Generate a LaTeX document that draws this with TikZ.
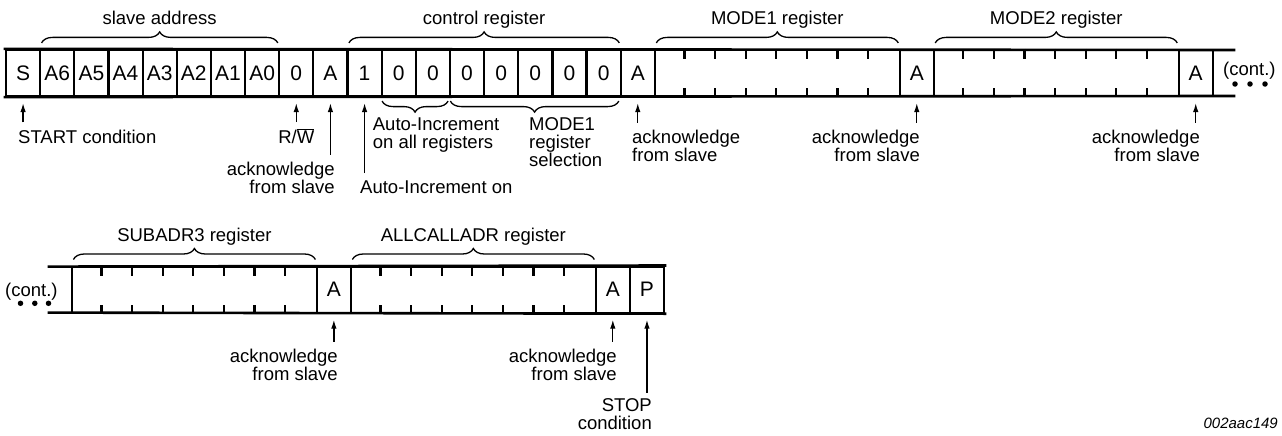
\documentclass[tikz,border=0pt]{standalone}
\usepackage{fontspec}
\setmainfont{Liberation Sans}
\usetikzlibrary{arrows.meta,decorations.pathreplacing,calc}
\begin{document}
\begin{tikzpicture}[x=1pt,y=-1pt,
  bitcell/.style={draw,line width=2.2pt,minimum width=34.15pt,minimum height=46pt,inner sep=0pt,font=\fontsize{21}{21}\selectfont},
  regbox/.style={draw,line width=2.2pt,minimum width=244.8pt,minimum height=46pt,inner sep=0pt},
  railline/.style={line width=2.6pt,line cap=rect},
  tickline/.style={line width=2.2pt},
  lbl/.style={font=\fontsize{18.5}{18}\selectfont,inner sep=0pt},
  codelbl/.style={font=\fontsize{15}{15}\selectfont\itshape,inner sep=0pt},
  arr/.style={line width=1.3pt,-{Latex[length=9pt,width=5.5pt]}},
  brc/.style={decorate,decoration={brace,amplitude=11pt},line width=1.3pt},
  mbrc/.style={decorate,decoration={brace,mirror,amplitude=11pt},line width=1.3pt},
  dot/.style={circle,fill,inner sep=0pt,minimum size=5.5pt}
]
\useasboundingbox (0,0) rectangle (1282,436);

% ---------- top row ----------
\foreach \celltext [count=\i] in {S,A6,A5,A4,A3,A2,A1,A0,0,A,1,0,0,0,0,0,0,0,A}
  \node[bitcell] (t\i) at ({6+(\i-0.5)*34.15},73) {\celltext};
\node[regbox] (m1) at (777.3,73) {};
\node[bitcell] (ta2) at (916.775,73) {A};
\node[regbox] (m2) at (1056.25,73) {};
\node[bitcell] (ta3) at (1195.725,73) {A};
\foreach \k in {1,...,7} {
  \draw[tickline] ($(m1.north west)+(\k*30.6,0)$) -- ++(0,10);
  \draw[tickline] ($(m1.south west)+(\k*30.6,0)$) -- ++(0,-9);
  \draw[tickline] ($(m2.north west)+(\k*30.6,0)$) -- ++(0,10);
  \draw[tickline] ($(m2.south west)+(\k*30.6,0)$) -- ++(0,-9);
}
\coordinate (topendN) at (1234,50);
\coordinate (topendS) at (1234,96);
\draw[railline] (t1.north west) -- (topendN);
\draw[railline] (t1.south west) -- (topendS);

% braces top
\draw[brc] ($(t2.north west)+(2.5,-6)$) -- ($(t8.north east)+(-2.5,-6)$);
\draw[brc] ($(t11.north west)+(2.5,-6)$) -- ($(t18.north east)+(-2.5,-6)$);
\draw[brc] ($(m1.north west)+(2.5,-6)$) -- ($(m1.north east)+(-2.5,-6)$);
\draw[brc] ($(m2.north west)+(2.5,-6)$) -- ($(m2.north east)+(-2.5,-6)$);
\node[lbl,anchor=base] (lsa) at ($(t2.north west)!0.5!(t8.north east)+(0,-24)$) {slave address};
\node[lbl,anchor=base] (lcr) at ($(t11.north west)!0.5!(t18.north east)+(0,-24)$) {control register};
\node[lbl,anchor=base] (lm1) at ($(m1.north)+(0,-24)$) {MODE1 register};
\node[lbl,anchor=base] (lm2) at ($(m2.north)+(0,-24)$) {MODE2 register};

% lower braces
\draw[mbrc] ($(t12.south west)+(1.5,4)$) -- ($(t13.south east)+(-3,4)$);
\draw[mbrc] ($(t14.south west)+(1.5,4)$) -- ($(t18.south east)+(-3,4)$);

% labels top row
\node[lbl,anchor=base west] (lstart) at (18,143) {START condition};
\node[lbl,anchor=base] (lrw) at (296.3,143) {R/$\overline{\mbox{W}}$};
\node[lbl,anchor=north east,align=right] (lack1) at (335,161.6) {acknowledge\\from slave};
\node[lbl,anchor=base west] (lai) at (360,193) {Auto-Increment on};
\node[lbl,anchor=north west,align=left] (laiall) at (372.7,117.6) {Auto-Increment\\on all registers};
\node[lbl,anchor=north west,align=left] (lmsel) at (529,117.6) {MODE1\\register\\selection};
\node[lbl,anchor=north west,align=left] (lack2) at (632,129.6) {acknowledge\\from slave};
\node[lbl,anchor=north east,align=right] (lack3) at (920,129.6) {acknowledge\\from slave};
\node[lbl,anchor=north east,align=right] (lack4) at (1200,129.6) {acknowledge\\from slave};
\node[lbl,anchor=base west] (lcont1) at (1223,76) {(cont.)};
\node[dot] (d1) at (1235,84) {};
\node[dot] (d2) at (1250,84) {};
\node[dot] (d3) at (1265,84) {};

% arrows top row
\draw[arr] ($(t1.south |- lstart.north)+(0,-7)$) -- ($(t1.south)+(0,6)$);
\draw[arr] ($(t9.south |- lrw.north)+(0,-6)$) -- ($(t9.south)+(0,6)$);
\draw[arr] ($(t10.south |- lack1.north)+(0,-7)$) -- ($(t10.south)+(0,6)$);
\draw[arr] ($(t11.south |- lai.north)+(0,-7)$) -- ($(t11.south)+(0,6)$);
\draw[arr] ($(t19.south |- lack2.north)+(0,-7)$) -- ($(t19.south)+(0,6)$);
\draw[arr] ($(ta2.south |- lack3.north)+(0,-7)$) -- ($(ta2.south)+(0,6)$);
\draw[arr] ($(ta3.south |- lack4.north)+(0,-7)$) -- ($(ta3.south)+(0,6)$);

% ---------- bottom row ----------
\node[regbox] (s3) at (194.4,289.6) {};
\node[bitcell] (ba1) at (333.875,289.6) {A};
\node[regbox] (ac) at (473.35,289.6) {};
\node[bitcell] (ba2) at (612.825,289.6) {A};
\node[bitcell] (bp) at (646.975,289.6) {P};
\foreach \k in {1,...,7} {
  \draw[tickline] ($(s3.north west)+(\k*30.6,0)$) -- ++(0,10);
  \draw[tickline] ($(s3.south west)+(\k*30.6,0)$) -- ++(0,-9);
  \draw[tickline] ($(ac.north west)+(\k*30.6,0)$) -- ++(0,10);
  \draw[tickline] ($(ac.south west)+(\k*30.6,0)$) -- ++(0,-9);
}
\coordinate (botstartN) at (49,266.6);
\coordinate (botstartS) at (49,312.6);
\draw[railline] (botstartN) -- (bp.north east);
\draw[railline] (botstartS) -- (bp.south east);

\draw[brc] ($(s3.north west)+(2.5,-6)$) -- ($(s3.north east)+(-2.5,-6)$);
\draw[brc] ($(ac.north west)+(2.5,-6)$) -- ($(ac.north east)+(-2.5,-6)$);
\node[lbl,anchor=base] (ls3) at ($(s3.north)+(0,-24.5)$) {SUBADR3 register};
\node[lbl,anchor=base] (lac) at ($(ac.north)+(0,-24.5)$) {ALLCALLADR register};

\node[lbl,anchor=base west] (lcont2) at (5,296) {(cont.)};
\node[dot] (e1) at (20.5,303.3) {};
\node[dot] (e2) at (34.8,303.3) {};
\node[dot] (e3) at (48.5,303.3) {};

\node[lbl,anchor=north east,align=right] (lack5) at (338,348.6) {acknowledge\\from slave};
\node[lbl,anchor=north east,align=right] (lack6) at (617,348.6) {acknowledge\\from slave};
\node[lbl,anchor=north east,align=right] (lstop) at (652,398.8) {STOP\\condition};
\draw[arr] ($(ba1.south |- lack5.north)+(0,-7)$) -- ($(ba1.south)+(0,6)$);
\draw[arr] ($(ba2.south |- lack6.north)+(0,-7)$) -- ($(ba2.south)+(0,6)$);
\draw[arr] ($(bp.south |- lstop.north)+(0,-6)$) -- ($(bp.south)+(0,6)$);

\node[codelbl,anchor=base east] (lcode) at (1278,428) {002aac149};
\end{tikzpicture}
\end{document}
